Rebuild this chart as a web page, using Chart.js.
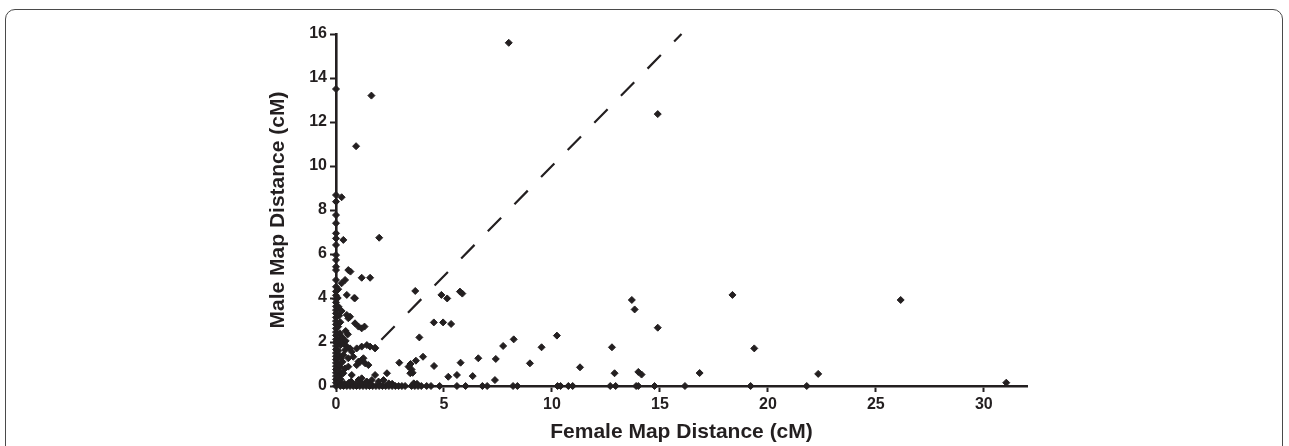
<!DOCTYPE html>
<html>
<head>
<meta charset="utf-8">
<script src="https://cdn.jsdelivr.net/npm/chart.js@4.4.1/dist/chart.umd.min.js"></script>
<style>
  body { margin: 0; background: #fff; overflow: hidden; }
  #frame { position: absolute; left: 5px; top: 9px; width: 1276px; height: 470px;
           border: 1.5px solid #4a4a4a; border-radius: 10px; }
  #chart { position: absolute; left: 0; top: 0; }
</style>
</head>
<body>
<div id="frame"></div>
<canvas id="chart" width="1289" height="446"></canvas>
<script>
// female / male map distances (cM), in pairs
var femaleCM = [
  // on the male axis
  0, 0, 0, 0, 0, 0, 0, 0, 0, 0, 0, 0, 0, 0, 0, 0, 0, 0, 0, 0, 0,
  0, 0, 0, 0, 0, 0, 0, 0, 0, 0, 0, 0, 0, 0, 0, 0, 0, 0, 0, 0, 0,
  // close to the male axis
  0.12, 0.15, 0.1, 0.18, 0.12, 0.2, 0.1, 0.15, 0.22, 0.1, 0.18, 0.12,
  0.2, 0.1, 0.15, 0.25, 0.08, 0.1, 0.15, 0.22, 0.28, 0.3, 0.25, 0.2,
  // on the female axis
  0.2, 0.35, 0.5, 0.65, 0.8, 0.95, 1.1, 1.25, 1.4, 1.55, 1.7, 1.85, 2.0,
  2.15, 2.3, 2.45, 2.6, 2.75, 2.9, 3.05, 3.2, 3.5, 3.65, 3.8, 3.95, 4.2,
  4.4, 4.8, 5.6, 6.0, 6.78, 7.0, 8.2, 8.4, 10.26, 10.4, 10.76, 10.96,
  12.7, 12.95, 13.9, 14.0, 14.75, 16.16, 19.2, 21.8,
  // close to the female axis
  0.4, 0.6, 0.9, 1.2, 1.6, 2.0, 2.6, 3.6, 3.75, 0.7,
  // upper part
  0.26, 0.93, 1.64, 8.0, 14.9, 0.34, 2.0, 0.57, 0.67, 1.19, 1.58, 0.42,
  0.26, 0.84, 0.5, 0.88,
  // cluster near origin
  0.26, 0.5, 0.65, 0.57, 0.88, 1.04, 1.32, 1.19, 0.34, 0.5, 0.65, 0.42,
  0.73, 0.96, 1.19, 1.43, 1.81, 0.34, 0.57, 0.8, 1.04, 1.19, 1.35, 1.5,
  0.42, 0.57, 0.34, 0.73, 1.04, 1.19, 1.43, 1.66, 1.81, 1.97, 2.2, 2.36,
  2.44, 0.96, 1.12, 1.27, 0.45, 0.55, 1.58, 1.81, 0.3, 0.45,
  // spread out
  3.67, 5.74, 5.85, 4.88, 5.15, 4.53, 4.96, 5.33, 3.86, 4.03, 2.93, 3.45,
  3.7, 3.5, 3.55, 3.36, 3.44, 4.54, 5.2, 5.6, 5.77, 6.33, 6.59, 7.36, 7.4,
  7.74, 8.23, 8.98, 9.52, 10.23, 11.3, 13.7, 13.83, 14.9, 12.78, 12.9,
  14.0, 14.15, 18.36, 19.37, 16.84, 22.33, 26.15, 31.04
];
var maleCM = [
  13.5, 8.68, 8.38, 7.77, 7.4, 6.94, 6.71, 6.41, 5.95, 5.73, 5.42, 5.27,
  4.82, 4.51, 4.3, 4.12, 3.95, 3.8, 3.62, 3.45, 3.3, 3.12, 2.95, 2.8, 2.62,
  2.45, 2.3, 2.12, 1.98, 1.82, 1.66, 1.5, 1.35, 1.2, 1.05, 0.9, 0.75, 0.6,
  0.45, 0.3, 0.15, 0,
  3.6, 3.2, 2.7, 2.4, 2.05, 1.85, 1.6, 1.4, 1.25, 1.0, 0.85, 0.68,
  0.5, 0.35, 0.2, 0.08, 4.0, 4.4, 0.95, 0.3, 0.6, 1.1, 2.2, 2.9,
  0, 0, 0, 0, 0, 0, 0, 0, 0, 0, 0, 0, 0,
  0, 0, 0, 0, 0, 0, 0, 0, 0, 0, 0, 0, 0,
  0, 0, 0, 0, 0, 0, 0, 0, 0, 0, 0, 0,
  0, 0, 0, 0, 0, 0, 0, 0,
  0.1, 0.15, 0.08, 0.12, 0.1, 0.06, 0.1, 0.12, 0.1, 0.2,
  8.58, 10.9, 13.2, 15.6, 12.36, 6.64, 6.74, 5.27, 5.2, 4.92, 4.92, 4.82,
  4.67, 4.0, 4.14, 3.99,
  3.41, 3.23, 3.15, 3.08, 2.85, 2.7, 2.7, 2.62, 1.94, 1.79, 1.71, 1.64,
  1.56, 1.71, 1.79, 1.86, 1.71, 1.41, 1.26, 1.33, 1.11, 1.18, 1.03, 0.95,
  0.8, 0.88, 0.58, 0.5, 0.27, 0.35, 0.2, 0.27, 0.5, 0.2, 0.27, 0.58,
  0.12, 0.95, 1.1, 1.26, 2.5, 2.35, 1.79, 1.74, 2.2, 2.05,
  4.32, 4.29, 4.2, 4.14, 3.98, 2.89, 2.89, 2.82, 2.21, 1.33, 1.06, 1.0,
  1.15, 0.75, 0.6, 0.88, 0.58, 0.91, 0.42, 0.5, 1.06, 0.45, 1.26, 0.27, 1.23,
  1.82, 2.12, 1.03, 1.76, 2.29, 0.85, 3.91, 3.48, 2.65, 1.76, 0.58,
  0.64, 0.52, 4.14, 1.71, 0.59, 0.55, 3.91, 0.15
];
// equal-distance reference line
var diagonalCM = [2.1, 16];

var ink = '#231f20';
var points = femaleCM.map(function(f, i) { return { x: f, y: maleCM[i] }; });
var diagonal = diagonalCM.map(function(v) { return { x: v, y: v }; });
var tickFont = { family: 'Liberation Sans', size: 16, weight: 'bold' };
var titleFont = { family: 'Liberation Sans', size: 21, weight: 'bold' };

new Chart(document.getElementById('chart'), {
  type: 'scatter',
  data: {
    datasets: [{
      data: points,
      clip: false,
      pointStyle: 'rectRot',
      pointRadius: 3.5,
      pointBorderWidth: 1,
      backgroundColor: ink,
      borderColor: ink
    }, {
      type: 'line',
      data: diagonal,
      clip: false,
      borderColor: ink,
      borderWidth: 2.2,
      borderDash: [19, 19],
      pointRadius: 0,
      fill: false
    }]
  },
  options: {
    responsive: false,
    animation: false,
    events: [],
    layout: { padding: { left: 262, right: 262, top: 34, bottom: 0 } },
    plugins: { legend: { display: false }, tooltip: { enabled: false } },
    scales: {
      x: {
        type: 'linear',
        min: 0, max: 32,
        afterFit: function(s) { s.height = 60; },
        border: { display: true, color: ink, width: 2.6 },
        grid: { display: true, drawOnChartArea: false, drawTicks: true, tickLength: 6, tickWidth: 2, color: ink },
        ticks: { stepSize: 5, includeBounds: false, padding: 3, color: ink, font: tickFont },
        title: { display: true, text: 'Female Map Distance (cM)', color: ink, font: titleFont, padding: { top: 0, bottom: 1 } }
      },
      y: {
        min: 0, max: 16,
        afterFit: function(s) { s.width = 74; },
        border: { display: true, color: ink, width: 2.6 },
        grid: { display: true, drawOnChartArea: false, drawTicks: true, tickLength: 6, tickWidth: 2, color: ink },
        ticks: { stepSize: 2, padding: 3, color: ink, font: tickFont },
        title: { display: true, text: 'Male Map Distance (cM)', color: ink, font: titleFont, padding: { top: 4, bottom: 0 } }
      }
    }
  }
});
</script>
</body>
</html>
